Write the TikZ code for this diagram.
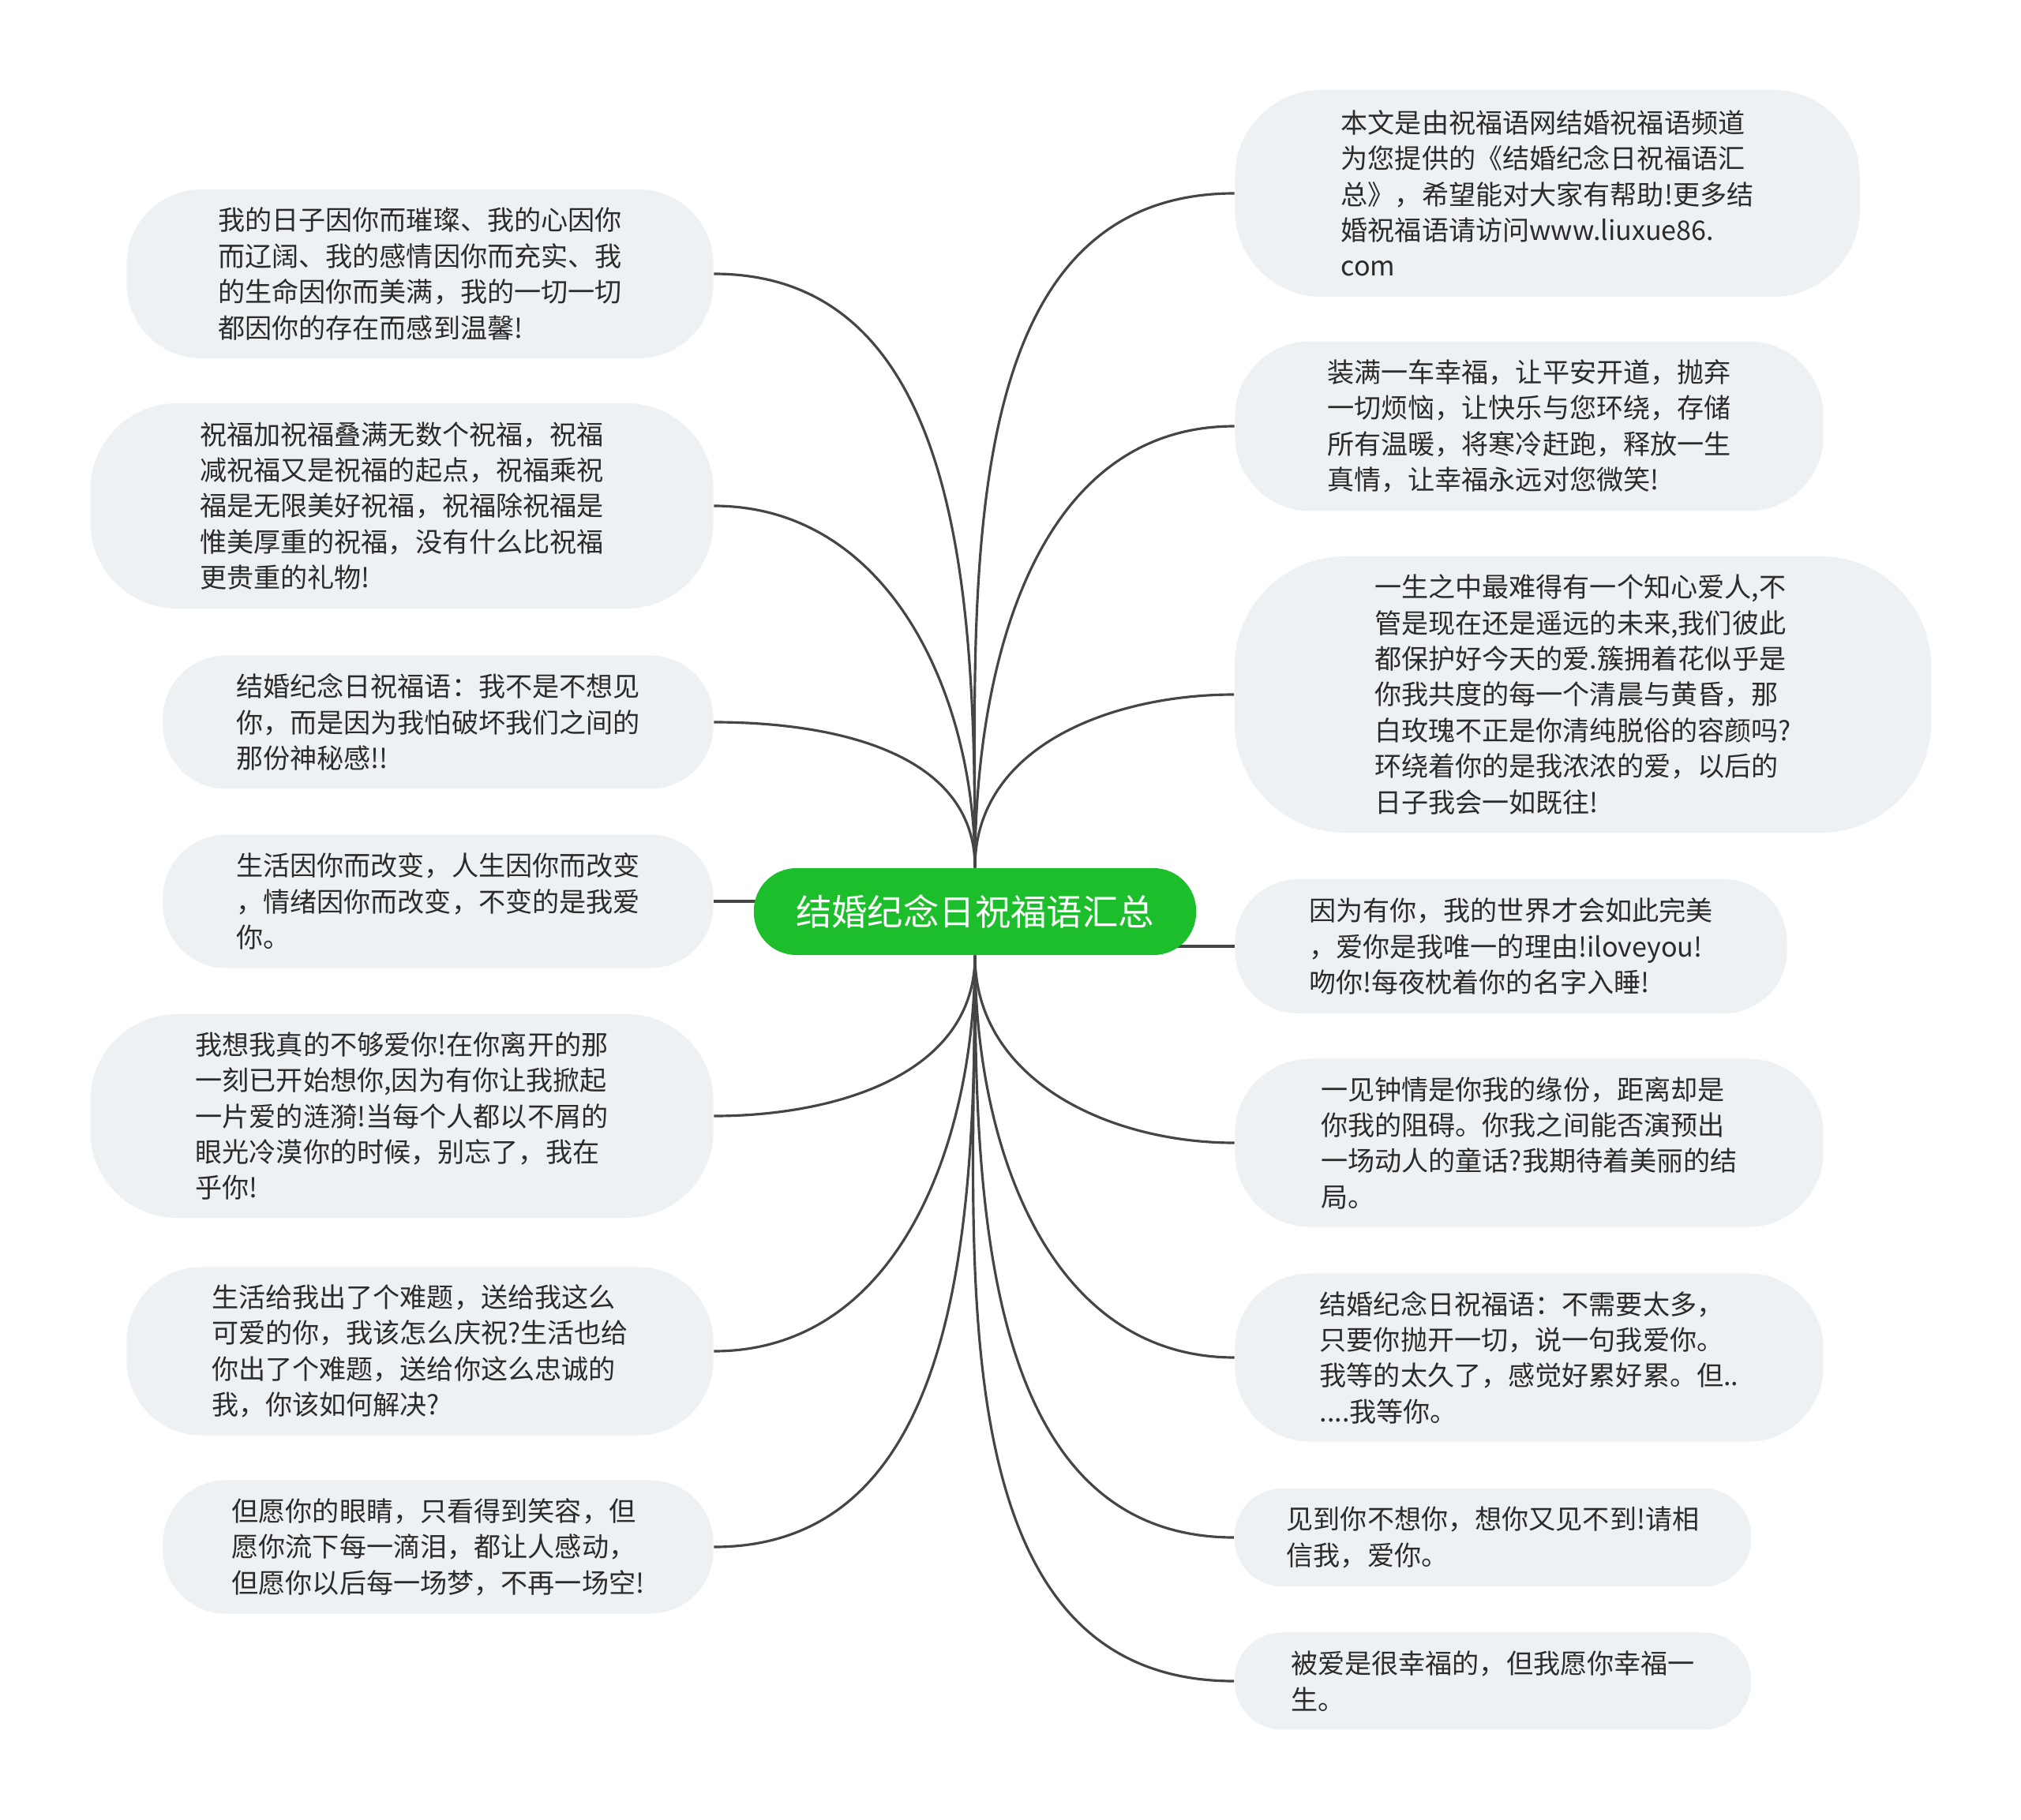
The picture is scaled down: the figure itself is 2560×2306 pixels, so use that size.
\documentclass[tikz,border=0pt]{standalone}
\usepackage{fontspec}
\usepackage{xcolor}
\usepackage{tikz}
\usetikzlibrary{backgrounds}
\newfontfamily\cjk{Noto Sans CJK SC}
\definecolor{mmgreen}{HTML}{1CBE2B}
\definecolor{mmbubble}{HTML}{EEF1F4}
\definecolor{mmtext}{HTML}{2B2B2B}
\definecolor{mmline}{HTML}{454545}

\begin{document}
\begin{tikzpicture}[x=0.01cm, y=-0.01cm,
  bubble/.style={fill=mmbubble, rounded corners=#1, inner sep=0pt, align=left,
    text=mmtext, font=\cjk\fontsize{9.7}{12.9}\selectfont},
  hubnode/.style={fill=mmgreen, rounded corners=0.54cm, inner sep=0pt,
    text=white, font=\cjk\fontsize{12.9}{15}\selectfont},
  link/.style={draw=mmline, line width=0.9pt}]
  \useasboundingbox (0,0) rectangle (2560,2306);

  % centre
  \node[hubnode, minimum width=5.6cm, minimum height=1.1cm] (hub) at (1235,1155) {结婚纪念日祝福语汇总};

  % right side
  \node[bubble=1.1cm, minimum width=7.91cm, minimum height=2.62cm] (r1) at (1960,245) {本文是由祝福语网结婚祝福语频道\\为您提供的《结婚纪念日祝福语汇\\总》，希望能对大家有帮助!更多结\\婚祝福语请访问www.liuxue86.\\com};
  \node[bubble=0.95cm, minimum width=7.45cm, minimum height=2.15cm] (r2) at (1937,540) {装满一车幸福，让平安开道，抛弃\\一切烦恼，让快乐与您环绕，存储\\所有温暖，将寒冷赶跑，释放一生\\真情，让幸福永远对您微笑!};
  \node[bubble=1.4cm, minimum width=8.82cm, minimum height=3.5cm] (r3) at (2005,880) {一生之中最难得有一个知心爱人,不\\管是现在还是遥远的未来,我们彼此\\都保护好今天的爱.簇拥着花似乎是\\你我共度的每一个清晨与黄昏，那\\白玫瑰不正是你清纯脱俗的容颜吗?\\环绕着你的是我浓浓的爱，以后的\\日子我会一如既往!};
  \node[bubble=0.8cm, minimum width=6.99cm, minimum height=1.7cm] (r4) at (1914,1199) {因为有你，我的世界才会如此完美\\，爱你是我唯一的理由!iloveyou!\\吻你!每夜枕着你的名字入睡!};
  \node[bubble=0.95cm, minimum width=7.45cm, minimum height=2.13cm] (r5) at (1937,1448) {一见钟情是你我的缘份，距离却是\\你我的阻碍。你我之间能否演预出\\一场动人的童话?我期待着美丽的结\\局。};
  \node[bubble=0.95cm, minimum width=7.45cm, minimum height=2.13cm] (r6) at (1937,1720) {结婚纪念日祝福语：不需要太多，\\只要你抛开一切，说一句我爱你。\\我等的太久了，感觉好累好累。但..\\....我等你。};
  \node[bubble=0.6cm, minimum width=6.54cm, minimum height=1.24cm] (r7) at (1891,1948) {见到你不想你，想你又见不到!请相\\信我，爱你。};
  \node[bubble=0.6cm, minimum width=6.54cm, minimum height=1.23cm] (r8) at (1891,2130) {被爱是很幸福的，但我愿你幸福一\\生。};

  % left side
  \node[bubble=0.95cm, minimum width=7.43cm, minimum height=2.14cm] (l1) at (532,347) {我的日子因你而璀璨、我的心因你\\而辽阔、我的感情因你而充实、我\\的生命因你而美满，我的一切一切\\都因你的存在而感到温馨!};
  \node[bubble=1.1cm, minimum width=7.89cm, minimum height=2.6cm] (l2) at (509,641) {祝福加祝福叠满无数个祝福，祝福\\减祝福又是祝福的起点，祝福乘祝\\福是无限美好祝福，祝福除祝福是\\惟美厚重的祝福，没有什么比祝福\\更贵重的礼物!};
  \node[bubble=0.8cm, minimum width=6.97cm, minimum height=1.69cm] (l3) at (555,915) {结婚纪念日祝福语：我不是不想见\\你，而是因为我怕破坏我们之间的\\那份神秘感!!};
  \node[bubble=0.8cm, minimum width=6.97cm, minimum height=1.69cm] (l4) at (555,1142) {生活因你而改变，人生因你而改变\\，情绪因你而改变，不变的是我爱\\你。};
  \node[bubble=1.1cm, minimum width=7.89cm, minimum height=2.58cm] (l5) at (509,1414) {我想我真的不够爱你!在你离开的那\\一刻已开始想你,因为有你让我掀起\\一片爱的涟漪!当每个人都以不屑的\\眼光冷漠你的时候，别忘了，我在\\乎你!};
  \node[bubble=0.95cm, minimum width=7.43cm, minimum height=2.13cm] (l6) at (532,1712) {生活给我出了个难题，送给我这么\\可爱的你，我该怎么庆祝?生活也给\\你出了个难题，送给你这么忠诚的\\我，你该如何解决?};
  \node[bubble=0.8cm, minimum width=6.97cm, minimum height=1.69cm] (l7) at (555,1960) {但愿你的眼睛，只看得到笑容，但\\愿你流下每一滴泪，都让人感动，\\但愿你以后每一场梦，不再一场空!};

  % connectors
  \begin{scope}[on background layer]
    \foreach \n in {r1,r2,r3}
      \draw[link] (hub.north) to[out=90, in=180] (\n.west);
    \foreach \n in {r5,r6,r7,r8}
      \draw[link] (hub.south) to[out=-90, in=180] (\n.west);
    \foreach \n in {l1,l2,l3}
      \draw[link] (hub.north) to[out=90, in=0] (\n.east);
    \foreach \n in {l5,l6,l7}
      \draw[link] (hub.south) to[out=-90, in=0] (\n.east);
    \draw[link] (r4.west) -- (r4.west -| hub.center);
    \draw[link] (l4.east) -- (l4.east -| hub.center);
  \end{scope}
\end{tikzpicture}
\end{document}
